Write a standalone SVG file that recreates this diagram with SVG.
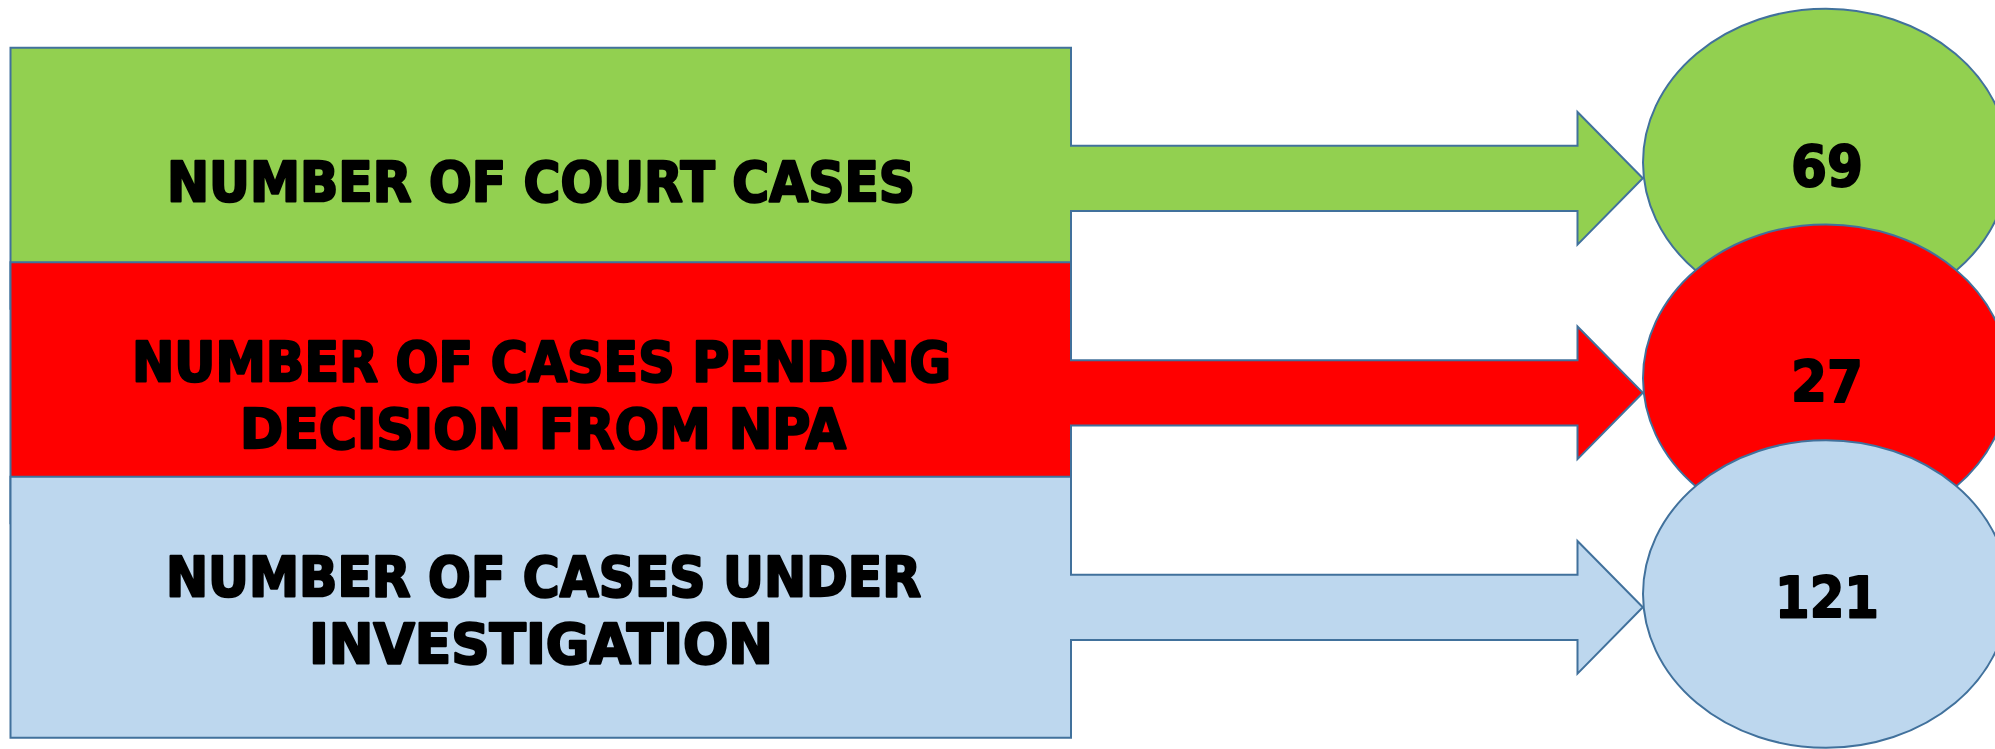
<svg xmlns="http://www.w3.org/2000/svg" width="1995" height="749" viewBox="0 0 1995 749">
<style>
.shape{stroke:#41719C;stroke-width:2;stroke-linejoin:miter}
.g{fill:#92D050}
.r{fill:#FF0000}
.b{fill:#BDD7EE}
.lbl{font-family:"DejaVu Sans","Liberation Sans",sans-serif;font-weight:bold;font-size:54.5px;fill:#000;stroke:#000;stroke-width:2.4;stroke-linejoin:round;text-anchor:middle}
.num{font-family:"DejaVu Sans","Liberation Sans",sans-serif;font-weight:bold;font-size:57px;fill:#000;stroke:#000;stroke-width:2;stroke-linejoin:round;text-anchor:middle}
</style>
<rect width="1995" height="749" fill="#FFFFFF"/>
<g id="connectors"/>
<g id="court-cases">
<path class="shape g" d="M10.5,47.8 H1071 V145.7 H1577.5 V112 L1642.8,178.3 L1577.5,244.6 V211 H1071 V308.8 H10.5 Z"/>
<text class="lbl" x="541" y="200.5" textLength="748" lengthAdjust="spacingAndGlyphs">NUMBER OF COURT CASES</text>
</g>
<g id="pending-npa">
<path class="shape r" d="M10.5,262.3 H1071 V360.2 H1577.5 V326.5 L1642.8,392.8 L1577.5,459.1 V425.5 H1071 V523.3 H10.5 Z"/>
<text class="lbl" x="541.5" y="381.2" textLength="819" lengthAdjust="spacingAndGlyphs">NUMBER OF CASES PENDING</text>
<text class="lbl" x="543" y="447.8" textLength="606" lengthAdjust="spacingAndGlyphs">DECISION FROM NPA</text>
</g>
<g id="under-investigation">
<path class="shape b" d="M10.5,476.8 H1071 V574.7 H1577.5 V541 L1642.8,607.3 L1577.5,673.6 V640 H1071 V737.8 H10.5 Z"/>
<text class="lbl" x="543.5" y="596.2" textLength="755" lengthAdjust="spacingAndGlyphs">NUMBER OF CASES UNDER</text>
<text class="lbl" x="541" y="662.8" textLength="464" lengthAdjust="spacingAndGlyphs">INVESTIGATION</text>
</g>
<g id="count-69">
<ellipse class="shape g" cx="1826" cy="162.5" rx="183" ry="153.8"/>
<text class="num" x="1827" y="187.2" textLength="72" lengthAdjust="spacingAndGlyphs">69</text>
</g>
<g id="count-27">
<ellipse class="shape r" cx="1826" cy="378.2" rx="183" ry="153.8"/>
<text class="num" x="1827" y="402.2" textLength="72" lengthAdjust="spacingAndGlyphs">27</text>
</g>
<g id="count-121">
<ellipse class="shape b" cx="1826" cy="594" rx="183" ry="153.8"/>
<text class="num" x="1827" y="617.8" textLength="104" lengthAdjust="spacingAndGlyphs">121</text>
</g>
</svg>
